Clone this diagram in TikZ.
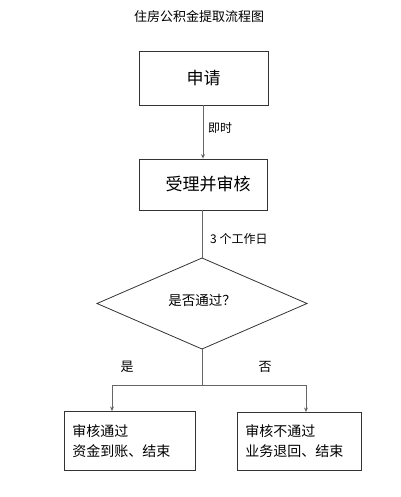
\documentclass[tikz,border=0pt]{standalone}
\usepackage{fontspec}
\setmainfont{Noto Sans CJK SC}
\usetikzlibrary{arrows.meta,shapes.geometric}
\begin{document}
\begin{tikzpicture}[x=1pt,y=-1pt,
  box/.style={draw=black!80,line width=0.8pt,inner sep=0pt},
  conn/.style={draw=black!60,line width=1pt},
  arr/.style={conn,-{Stealth[length=4.5pt,width=4pt]}},
  lbl/.style={inner sep=0pt,font=\fontsize{12}{14}\selectfont}]
\useasboundingbox (0,0) rectangle (400,497);
\node[inner sep=0pt,font=\fontsize{13}{15}\selectfont] (title) at (199,17) {住房公积金提取流程图};
\node[box,minimum width=129pt,minimum height=54pt,font=\fontsize{17}{20}\selectfont] (b1) at (203.5,78) {申请};
\node[box,minimum width=128pt,minimum height=51pt,font=\fontsize{17}{20}\selectfont] (b2) at (203,184.5) {\hspace*{10pt}受理并审核};
\coordinate (dt) at (202,258);
\coordinate (dl) at (97,303.5);
\coordinate (dr) at (307,303.5);
\coordinate (db) at (202,349);
\draw[box] (dt) -- (dr) -- (db) -- (dl) -- cycle;
\node[inner sep=0pt,font=\fontsize{13.5}{16}\selectfont] (dtext) at (202,300) {是否通过？};
\node[box,minimum width=125pt,minimum height=59pt,align=left,anchor=north west,font=\fontsize{14}{20}\selectfont,text width=115pt,inner xsep=8pt,inner ysep=5pt] (b3) at (64,411) {审核通过\\资金到账、结束};
\node[box,minimum width=118pt,minimum height=58pt,align=left,anchor=north west,font=\fontsize{14}{20}\selectfont,text width=108pt,inner xsep=8pt,inner ysep=5pt] (b4) at (237,412) {审核不通过\\业务退回、结束};
\draw[arr] (b1.south -| 203,0) -- (b2.north -| 203,0);
\node[lbl,anchor=west] (l1) at (208,128) {即时};
\draw[conn] (b2.south -| 202,0) -- (dt);
\node[lbl,anchor=west] (l2) at (210,239) {3 个工作日};
\coordinate (j) at (202,385);
\coordinate (jl) at (112,385);
\coordinate (jr) at (306,385);
\draw[conn] (db) -- (j);
\draw[conn] (jl) -- (jr);
\draw[arr] (jl) -- (jl |- b3.north);
\draw[arr] (jr) -- (jr |- b4.north);
\node[lbl,font=\fontsize{13}{15}\selectfont] (yes) at (127,367) {是};
\node[lbl,font=\fontsize{13}{15}\selectfont] (no) at (265,367) {否};
\end{tikzpicture}
\end{document}
